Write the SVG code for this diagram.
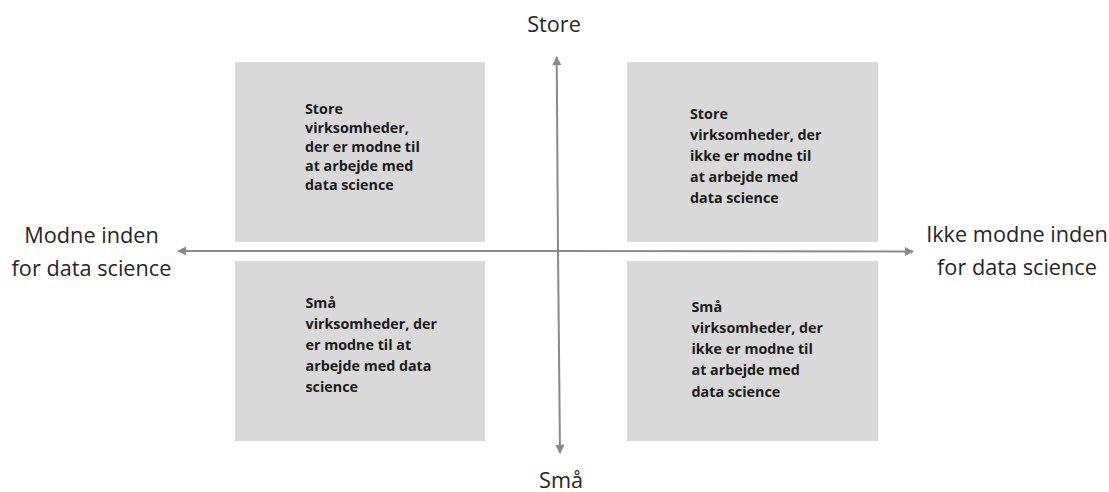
<svg xmlns="http://www.w3.org/2000/svg" width="1109" height="492" viewBox="0 0 1109 492">
  <defs>
    <marker id="ah" viewBox="0 0 10 10" refX="9" refY="5" markerWidth="5" markerHeight="4.5" markerUnits="strokeWidth" orient="auto">
      <path d="M0,0 L10,5 L0,10 z" fill="#8a8a8a"/>
    </marker>
    <style>
      .box { fill: #d9d9d9; }
      .btxt { font-family: "Open Sans", "Liberation Sans", sans-serif; font-weight: 700; font-size: 14.3px; fill: #1a1a1a; }
      .ax { font-family: "Open Sans", "Liberation Sans", sans-serif; font-size: 21.7px; fill: #262626; text-anchor: middle; }
      .conn { stroke: #8a8a8a; stroke-width: 2; fill: none; marker-end: url(#ah); }
    </style>
  </defs>
  <rect width="1109" height="492" fill="#ffffff"/>

  <g id="q-top-left">
    <rect class="box" x="235" y="62" width="250" height="180"/>
    <text class="btxt" x="305" y="114">Store</text>
    <text class="btxt" x="305" y="133">virksomheder,</text>
    <text class="btxt" x="305" y="152">der er modne til</text>
    <text class="btxt" x="305" y="171">at arbejde med</text>
    <text class="btxt" x="305" y="189.5">data science</text>
  </g>

  <g id="q-top-right">
    <rect class="box" x="627" y="62" width="251" height="180"/>
    <text class="btxt" x="690" y="118.5">Store</text>
    <text class="btxt" x="690" y="139.5">virksomheder, der</text>
    <text class="btxt" x="690" y="160.5">ikke er modne til</text>
    <text class="btxt" x="690" y="181.5">at arbejde med</text>
    <text class="btxt" x="690" y="202.5">data science</text>
  </g>

  <g id="q-bottom-left">
    <rect class="box" x="235" y="261" width="250" height="180"/>
    <text class="btxt" x="305.5" y="307.5">Små</text>
    <text class="btxt" x="305.5" y="329">virksomheder, der</text>
    <text class="btxt" x="305.5" y="350">er modne til at</text>
    <text class="btxt" x="305.5" y="371">arbejde med data</text>
    <text class="btxt" x="305.5" y="392">science</text>
  </g>

  <g id="q-bottom-right">
    <rect class="box" x="627" y="261" width="251" height="180"/>
    <text class="btxt" x="691.5" y="311.5">Små</text>
    <text class="btxt" x="691.5" y="333">virksomheder, der</text>
    <text class="btxt" x="691.5" y="354">ikke er modne til</text>
    <text class="btxt" x="691.5" y="375">at arbejde med</text>
    <text class="btxt" x="691.5" y="396.5">data science</text>
  </g>

  <g id="connectors">
    <line class="conn" x1="558" y1="251" x2="556.7" y2="57"/>
    <line class="conn" x1="558" y1="251" x2="560" y2="453"/>
    <line class="conn" x1="558" y1="251" x2="178" y2="251"/>
    <line class="conn" x1="558" y1="251" x2="913" y2="251.5"/>
  </g>

  <g id="label-top">
    <text class="ax" x="554" y="32">Store</text>
  </g>
  <g id="label-bottom">
    <text class="ax" x="561" y="488">Små</text>
  </g>
  <g id="label-left">
    <text class="ax" x="91.5" y="243">Modne inden</text>
    <text class="ax" x="91.5" y="276">for data science</text>
  </g>
  <g id="label-right">
    <text class="ax" x="1017" y="242">Ikke modne inden</text>
    <text class="ax" x="1017" y="275">for data science</text>
  </g>
</svg>
